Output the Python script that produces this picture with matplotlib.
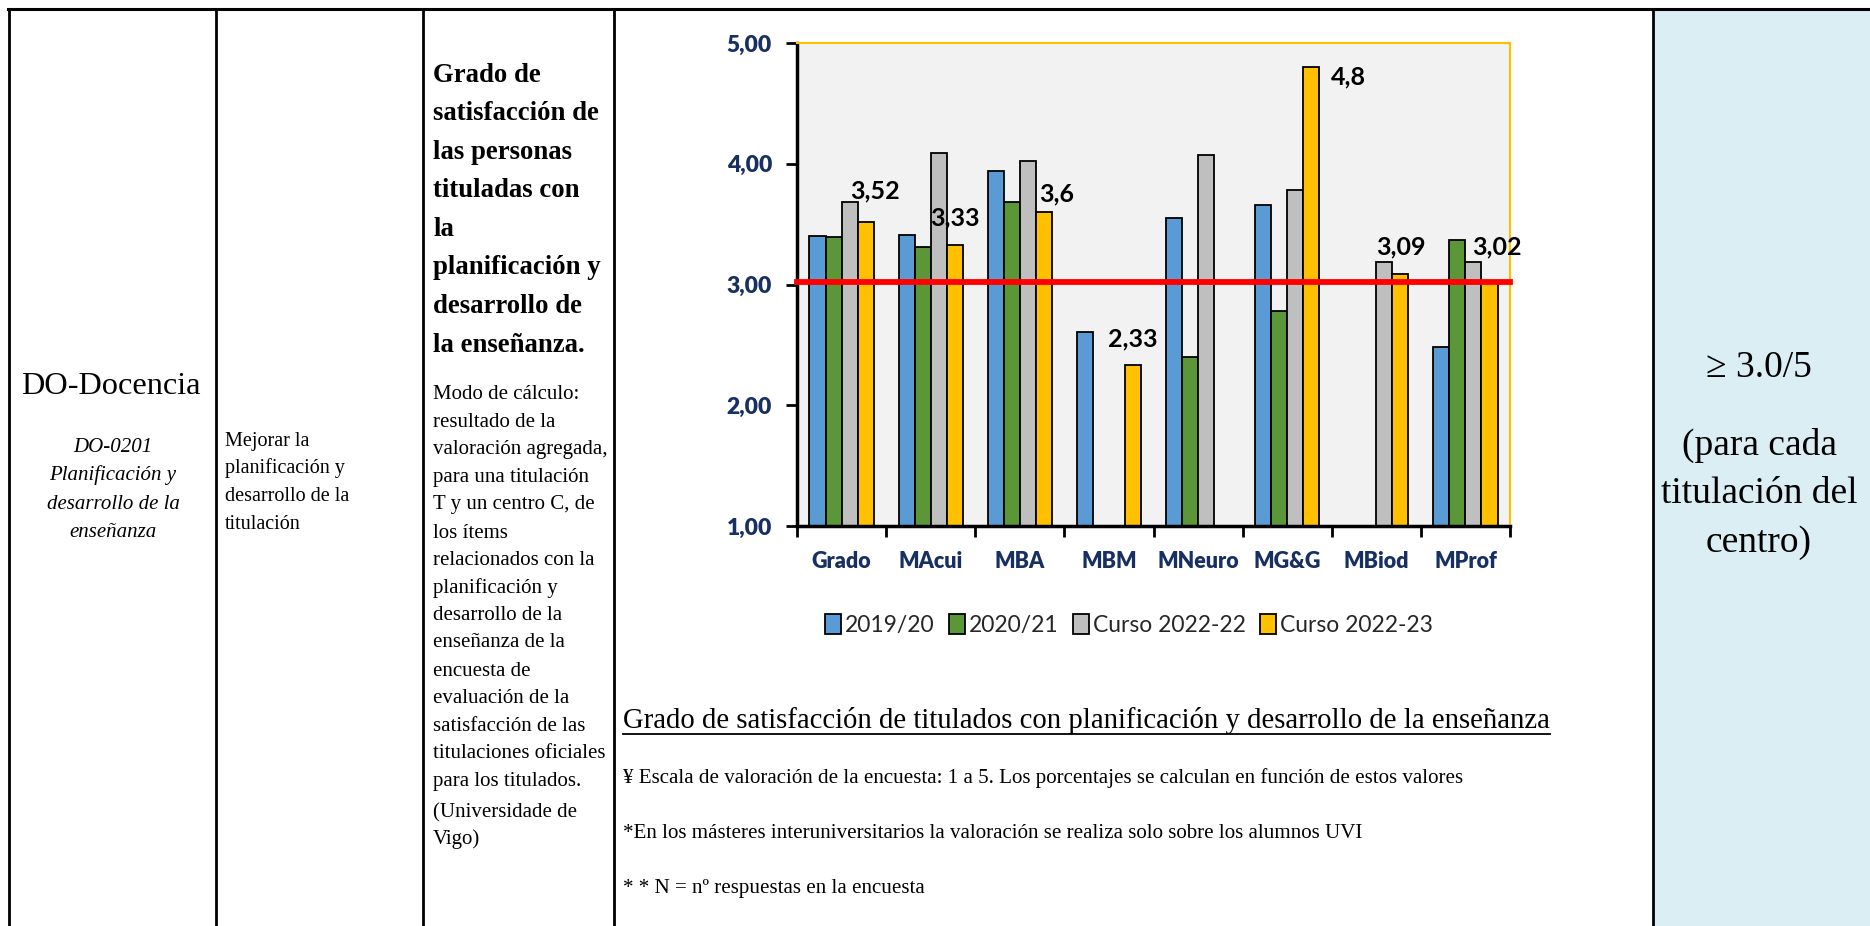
import numpy as np
import matplotlib
matplotlib.use('Agg')
import matplotlib.pyplot as plt
from matplotlib.lines import Line2D
from matplotlib.patches import Rectangle

# chart data
categories = ['Grado', 'MAcui', 'MBA', 'MBM', 'MNeuro', 'MG&G', 'MBiod', 'MProf']
series_names = ['2019/20', '2020/21', 'Curso 2022-22', 'Curso 2022-23']
v_2019_20 = [3.40, 3.41, 3.94, 2.61, 3.55, 3.66, np.nan, 2.48]
v_2020_21 = [3.39, 3.31, 3.68, np.nan, 2.40, 2.78, np.nan, 3.37]
v_2022_22 = [3.68, 4.09, 4.02, np.nan, 4.07, 3.78, 3.19, 3.19]
v_2022_23 = [3.52, 3.33, 3.60, 2.33, np.nan, 4.80, 3.09, 3.02]
threshold = 3.02
y_ticks = [1, 2, 3, 4, 5]
y_tick_labels = ['1,00', '2,00', '3,00', '4,00', '5,00']

# table texts
col1_title = 'DO-Docencia'
col1_sub = ['DO-0201', 'Planificación y', 'desarrollo de la', 'enseñanza']
col2_lines = ['Mejorar la', 'planificación y', 'desarrollo de la', 'titulación']
col3_head = ['Grado de', 'satisfacción de', 'las personas', 'tituladas con', 'la',
             'planificación y', 'desarrollo de', 'la enseñanza.']
col3_body = ['Modo de cálculo:', 'resultado de la', 'valoración agregada,',
             'para una titulación', 'T y un centro C, de', 'los ítems',
             'relacionados con la', 'planificación y', 'desarrollo de la',
             'enseñanza de la', 'encuesta de', 'evaluación de la',
             'satisfacción de las', 'titulaciones oficiales', 'para los titulados.',
             '(Universidade de', 'Vigo)']
right_lines = ['≥ 3.0/5', '(para cada', 'titulación del', 'centro)']
bottom_title = 'Grado de satisfacción de titulados con planificación y desarrollo de la enseñanza'
footnotes = ['¥ Escala de valoración de la encuesta: 1 a 5. Los porcentajes se calculan en función de estos valores',
             '*En los másteres interuniversitarios la valoración se realiza solo sobre los alumnos UVI',
             '* * N = nº respuestas en la encuesta']

colors = ['#5B9BD5', '#5B9639', '#BFBFBF', '#FFC000']
navy = '#172F62'
W, H = 1870, 926
serif = ['Liberation Serif', 'DejaVu Serif']

fig = plt.figure(figsize=(W / 100, H / 100), dpi=100)


def fx(px):
    return px / W


def fy(py):
    return 1 - py / H


def draw_lines(x, ys, lines, **kw):
    for yy, s in zip(ys, lines):
        fig.text(fx(x), fy(yy), s, va='center_baseline', family=serif, **kw)


# table grid
fig.add_artist(Rectangle((fx(1653), 0), 1 - fx(1653), fy(9), transform=fig.transFigure,
                         facecolor='#DAEEF3', edgecolor='none', zorder=0))
fig.add_artist(Line2D([fx(8), 1], [fy(9), fy(9)], color='black', lw=2.2))
for xv in [9, 216, 423, 614, 1653]:
    fig.add_artist(Line2D([fx(xv), fx(xv)], [0, fy(9)], color='black', lw=2.0))

# left columns
fig.text(fx(111), fy(383), col1_title, ha='center', va='center_baseline', family=serif, fontsize=23.3)
draw_lines(113, [445, 473, 502, 530], col1_sub, ha='center', style='italic', fontsize=15)
draw_lines(225, [439, 466, 494, 522], col2_lines, ha='left', fontsize=14.5)
draw_lines(433, [72 + 38.6 * i for i in range(len(col3_head))], col3_head,
           ha='left', fontsize=19.3, weight='bold')
draw_lines(433, [392, 420, 447, 475, 502, 531, 558, 586, 613, 640, 669, 696, 724, 751, 779, 810, 837],
           col3_body, ha='left', fontsize=15)

# right column
draw_lines(1759, [364, 441, 490, 539], right_lines, ha='center', fontsize=27)

# chart
ax = fig.add_axes([fx(797), fy(526), fx(1510 - 797), (526 - 43) / H])
ax.set_facecolor('#F2F2F2')
x = np.arange(len(categories)) + 0.5
bw = 0.18
all_series = [v_2019_20, v_2020_21, v_2022_22, v_2022_23]
for i, (name, vals) in enumerate(zip(series_names, all_series)):
    ax.bar(x + (i - 1.5) * bw, np.array(vals) - 1, bottom=1, width=bw, color=colors[i],
           edgecolor='black', linewidth=1.3, label=name, zorder=2)

ax.axhline(threshold, color='#FF0000', lw=4.2, zorder=3, clip_on=False)

# labels on the last series (manually nudged like the original)
label_offsets = [(7, 22), (0, 19), (9, 13), (0, 19), (0, 0), (27, -7), (0, 19), (5, 25)]
for xi, v, off in zip(x + 1.5 * bw, v_2022_23, label_offsets):
    if np.isnan(v):
        continue
    ax.annotate(f'{v:g}'.replace('.', ','), (xi, v), xytext=off, textcoords='offset points',
                ha='center', va='center', fontsize=18, weight='bold', family='Lato', zorder=4)

ax.set_xlim(0, len(categories))
ax.set_ylim(1, 5)
ax.set_yticks(y_ticks)
ax.set_yticklabels(y_tick_labels)
ax.set_xticks(np.arange(len(categories) + 1))
ax.set_xticklabels([])
ax.set_xticks(x, minor=True)
ax.set_xticklabels(categories, minor=True)
ax.tick_params(axis='x', which='minor', length=0, pad=18)
ax.tick_params(axis='both', which='major', length=8, width=2, direction='out')
for lab in ax.get_yticklabels() + ax.get_xticklabels(minor=True):
    lab.set_family('Lato')
    lab.set_weight('heavy')
    lab.set_color(navy)
for lab in ax.get_yticklabels():
    lab.set_fontsize(16.5)
for lab in ax.get_xticklabels(minor=True):
    lab.set_fontsize(15.5)
ax.tick_params(axis='y', pad=10)

ax.spines['left'].set_linewidth(2.5)
ax.spines['bottom'].set_linewidth(2.5)
ax.spines['top'].set_color('#FFC000')
ax.spines['right'].set_color('#FFC000')
ax.spines['top'].set_linewidth(1.5)
ax.spines['right'].set_linewidth(1.5)

leg = fig.legend(loc='center', bbox_to_anchor=(fx(1129), fy(625)), ncol=4, frameon=False,
                 handlelength=0.7, handleheight=1.0, handletextpad=0.2, columnspacing=0.6,
                 prop={'family': 'Lato', 'size': 16.5})
for t in leg.get_texts():
    t.set_color('#262626')

# text below chart
title = fig.text(fx(623), fy(718), bottom_title, va='center_baseline', family=serif, fontsize=20.7)
for yy, s in zip([776, 831, 886], footnotes):
    fig.text(fx(623), fy(yy), s, va='center_baseline', family=serif, fontsize=15.1)

# underline the title
fig.canvas.draw()
bb = title.get_window_extent()
uy = bb.y0 + 1
fig.add_artist(Line2D([bb.x0 / W, bb.x1 / W], [uy / H, uy / H], color='black', lw=1.3))

fig.savefig('out.png', dpi=100)
